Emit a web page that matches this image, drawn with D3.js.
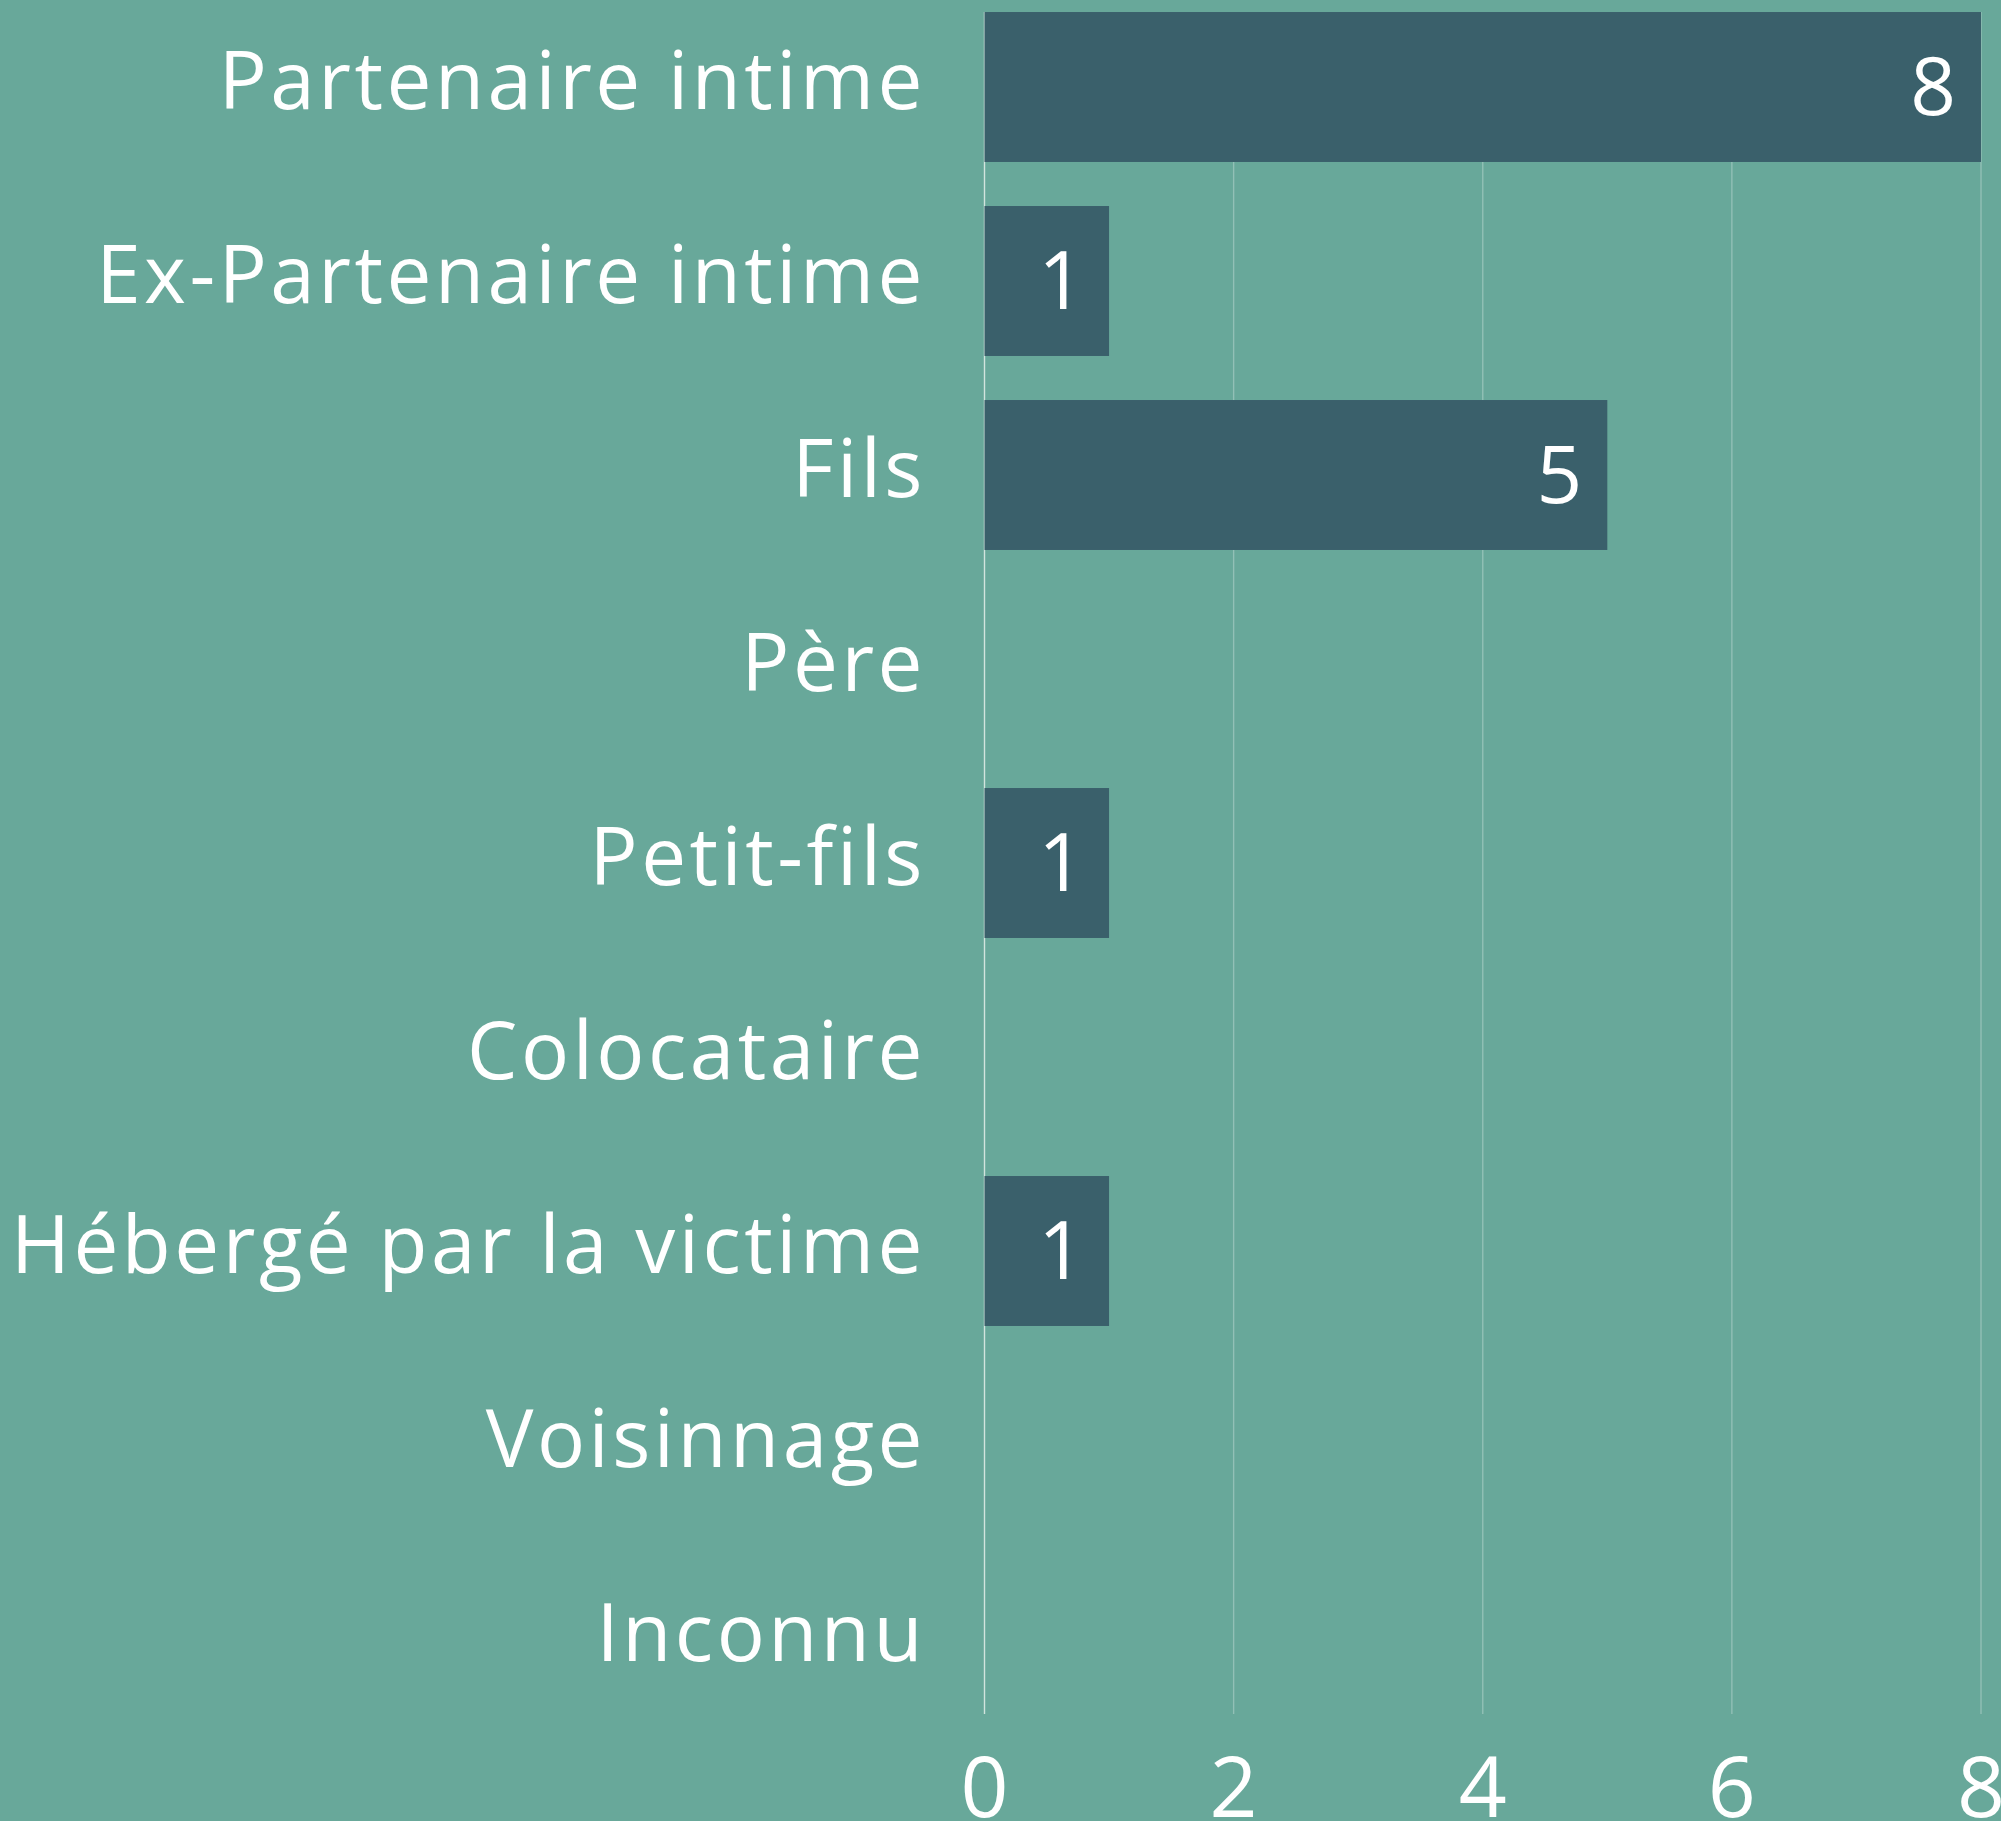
<!DOCTYPE html>
<html>
<head>
<meta charset="utf-8">
<script src="https://cdn.jsdelivr.net/npm/d3@7"></script>
<style>
  html, body { margin: 0; padding: 0; background: #68a89a; overflow: hidden; }
  text { font-family: "Open Sans", "Noto Sans", sans-serif; fill: #ffffff; }
</style>
</head>
<body>
<svg id="chart" width="2001" height="1821"></svg>
<script>
// Relation between author and victim
const categories = [
  'Partenaire intime',
  'Ex-Partenaire intime',
  'Fils',
  'Père',
  'Petit-fils',
  'Colocataire',
  'Hébergé par la victime',
  'Voisinnage',
  'Inconnu'
];
const counts = [8, 1, 5, 0, 1, 0, 1, 0, 0];
const xTicks = [0, 2, 4, 6, 8];

const svg = d3.select('#chart');

const x = d3.scaleLinear()
  .domain([0, 8])
  .range([984.5, 1981]);

const y = d3.scaleBand()
  .domain(categories)
  .range([-10, 1736])
  .paddingInner(0.227)
  .paddingOuter(0.1135);

const gridBottom = 1714;
const fontSize = 80;

// Vertical gridlines
svg.append('g')
  .selectAll('line')
  .data(xTicks)
  .join('line')
  .attr('x1', d => x(d))
  .attr('x2', d => x(d))
  .attr('y1', y.range()[0] + 22)
  .attr('y2', gridBottom)
  .attr('stroke', d => d === 0 ? '#d2e4de' : 'rgba(255,255,255,0.28)')
  .attr('stroke-width', 1.4);

// Bars
svg.append('g')
  .selectAll('rect')
  .data(categories.map((c, i) => ({ cat: c, value: counts[i] })))
  .join('rect')
  .attr('x', x(0))
  .attr('y', d => y(d.cat))
  .attr('width', d => x(d.value) - x(0))
  .attr('height', y.bandwidth())
  .attr('fill', '#3a606b');

// Value labels inside bars
svg.append('g')
  .selectAll('text')
  .data(categories.map((c, i) => ({ cat: c, value: counts[i] })).filter(d => d.value > 0))
  .join('text')
  .attr('x', d => x(d.value) - 25)
  .attr('y', d => y(d.cat) + y.bandwidth() / 2)
  .attr('dy', '0.35em')
  .attr('text-anchor', 'end')
  .style('font-size', fontSize + 'px')
  .text(d => d.value);

// Category labels (a bit of tracking to get closer to the wide original face)
svg.append('g')
  .selectAll('text')
  .data(categories)
  .join('text')
  .attr('x', 926)
  .attr('y', d => y(d) + y.bandwidth() / 2)
  .attr('dy', '0.27em')
  .attr('text-anchor', 'end')
  .style('font-size', fontSize + 'px')
  .style('letter-spacing', '3.5px')
  .text(d => d);

// X axis tick labels
svg.append('g')
  .selectAll('text')
  .data(xTicks)
  .join('text')
  .attr('x', d => x(d))
  .attr('y', 1817)
  .attr('text-anchor', 'middle')
  .style('font-size', (fontSize + 4) + 'px')
  .text(d => d);
</script>
</body>
</html>
